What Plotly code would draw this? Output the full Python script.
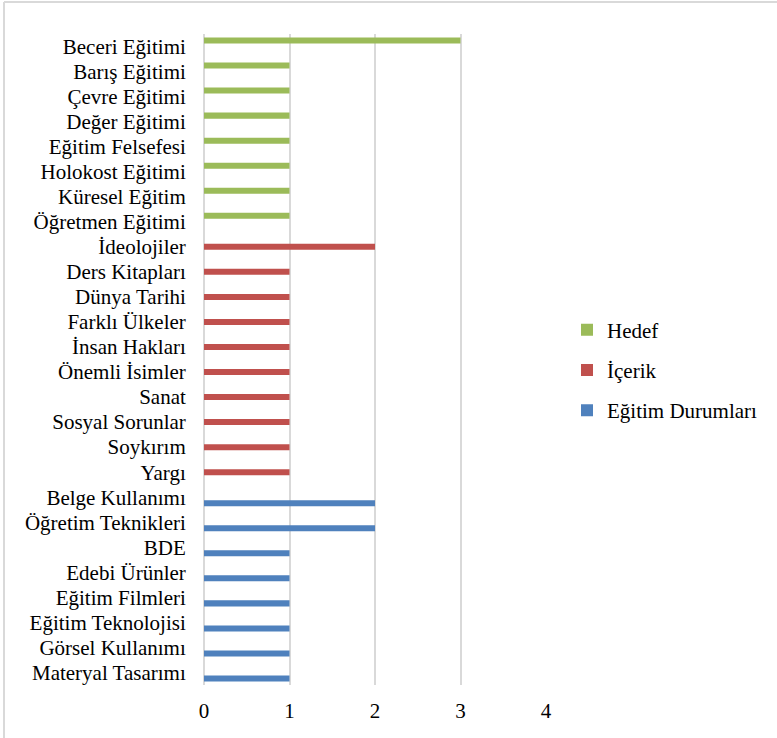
import plotly.graph_objects as go

hedef_cats = ["Beceri Eğitimi", "Barış Eğitimi", "Çevre Eğitimi", "Değer Eğitimi",
              "Eğitim Felsefesi", "Holokost Eğitimi", "Küresel Eğitim", "Öğretmen Eğitimi"]
hedef_vals = [3, 1, 1, 1, 1, 1, 1, 1]

icerik_cats = ["İdeolojiler", "Ders Kitapları", "Dünya Tarihi", "Farklı Ülkeler", "İnsan Hakları",
               "Önemli İsimler", "Sanat", "Sosyal Sorunlar", "Soykırım", "Yargı"]
icerik_vals = [2, 1, 1, 1, 1, 1, 1, 1, 1, 1]

durum_cats = ["Belge Kullanımı", "Öğretim Teknikleri", "BDE", "Edebi Ürünler", "Eğitim Filmleri",
              "Eğitim Teknolojisi", "Görsel Kullanımı", "Materyal Tasarımı"]
durum_vals = [2, 2, 1, 1, 1, 1, 1, 1]

x_ticks = [0, 1, 2, 3, 4]

all_cats = hedef_cats + icerik_cats + durum_cats

FONT = "Liberation Serif"
fig = go.Figure()
series = [
    ("Hedef", hedef_cats, hedef_vals, "#9BBB59", -0.36),
    ("İçerik", icerik_cats, icerik_vals, "#C0504D", -0.12),
    ("Eğitim Durumları", durum_cats, durum_vals, "#4F81BD", 0.12),
]
for name, cats, vals, col, off in series:
    fig.add_trace(go.Bar(
        y=cats, x=vals, name=name, orientation="h",
        width=0.24, offset=off,
        marker=dict(color=col, line=dict(width=0)),
        legendgroup=name,
    ))

L, R, T, B = 204, 777 - 546, 34, 738 - 685
pw, ph = 777 - L - R, 738 - T - B

def px(xp):
    return (xp - L) / pw

def py(yp):
    return (738 - B - yp) / ph

fig.update_layout(
    width=777, height=738,
    margin=dict(l=L, r=R, t=T, b=B, pad=0),
    paper_bgcolor="white", plot_bgcolor="white",
    barmode="overlay",
    font=dict(family=FONT, size=21, color="black"),
    legend=dict(
        x=px(567), xanchor="left", y=py(370), yanchor="middle",
        traceorder="grouped", tracegroupgap=10,
        font=dict(family=FONT, size=21, color="black"),
        bgcolor="rgba(0,0,0,0)",
    ),
    xaxis=dict(
        range=[0, 4], tickvals=x_ticks, ticktext=[str(v) for v in x_ticks],
        showgrid=True, gridcolor="#d9d9d9", gridwidth=1.5,
        zeroline=True, zerolinecolor="#d9d9d9", zerolinewidth=1.5,
        showline=False, ticks="outside", ticklen=7, tickcolor="rgba(0,0,0,0)",
        tickfont=dict(family=FONT, size=21, color="black"),
        fixedrange=True,
    ),
    yaxis=dict(
        categoryorder="array", categoryarray=all_cats, autorange="reversed",
        tickmode="array", tickvals=all_cats, ticktext=all_cats,
        showgrid=False, zeroline=False, showline=False,
        ticks="outside", ticklen=13, tickcolor="rgba(0,0,0,0)",
        tickfont=dict(family=FONT, size=21, color="black"),
        fixedrange=True,
    ),
    shapes=[
        dict(type="line", xref="paper", yref="paper",
             x0=px(4), x1=px(4), y0=py(2), y1=py(740),
             line=dict(color="#d9d9d9", width=2)),
        dict(type="line", xref="paper", yref="paper",
             x0=px(4), x1=px(780), y0=py(2), y1=py(2),
             line=dict(color="#d9d9d9", width=2)),
    ],
)

fig.write_html("out.html", config={"displayModeBar": False},
               post_script="document.body.style.margin='0px';")
